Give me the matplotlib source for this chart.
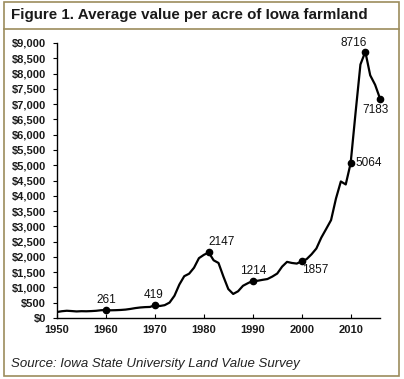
import matplotlib
matplotlib.use("Agg")
from matplotlib import pyplot as plt
from matplotlib.ticker import FuncFormatter

plt.rcParams['font.family'] = ['Liberation Sans', 'DejaVu Sans']

# average value per acre, Iowa farmland (ISU Land Value Survey)
years = list(range(1950, 2017))
values = [196, 222, 237, 227, 215, 223, 220, 226, 236, 254,
          261, 252, 256, 263, 275, 297, 324, 344, 356, 362,
          419, 392, 420, 505, 728, 1095, 1368, 1450, 1646, 1958,
          2066, 2147, 1889, 1801, 1357, 948, 787, 875, 1054, 1139,
          1214, 1219, 1249, 1275, 1356, 1455, 1682, 1837, 1801, 1781,
          1857, 1926, 2083, 2275, 2629, 2914, 3204, 3908, 4468, 4371,
          5064, 6708, 8296, 8716, 7943, 7633, 7183]

label_years = [1960, 1970, 1981, 1990, 2000, 2010, 2013, 2016]
# label offsets in pixels (dx, dy)
label_offsets = [(0, 4), (-1, 4), (0, 4), (0, 4), (0, -3), (5, 0), (2, 3), (-5, -5)]
label_align = ['center', 'center', 'left', 'center', 'left', 'left', 'right', 'center']

border = '#9c8c5c'

fig = plt.figure(figsize=(4.04, 3.79), dpi=100)

# frame around figure, with a rule under the title
fig.add_artist(plt.Rectangle((4 / 404, 3 / 379), 395 / 404, 374 / 379,
                             transform=fig.transFigure, fill=False,
                             edgecolor=border, linewidth=1.2))
fig.add_artist(plt.Line2D([4 / 404, 399 / 404], [1 - 29 / 379, 1 - 29 / 379],
                          transform=fig.transFigure, color=border, linewidth=1.2))

fig.text(11 / 404, 1 - 15 / 379, 'Figure 1. Average value per acre of Iowa farmland',
         fontsize=10.9, fontweight='bold', color='#1a1a1a', va='center', ha='left')
fig.text(11 / 404, 1 - 364 / 379, 'Source: Iowa State University Land Value Survey',
         fontsize=9.5, style='italic', color='#222222', va='center', ha='left')

ax = fig.add_axes([57 / 404, 61 / 379, 323 / 404, 275 / 379])
ax.plot(years, values, color='black', linewidth=1.6, solid_joinstyle='round')

lx = [y for y in label_years]
ly = [values[years.index(y)] for y in label_years]
ax.plot(lx, ly, 'o', color='black', markersize=4.5, clip_on=False)
for x, y, off, ha in zip(lx, ly, label_offsets, label_align):
    va = 'bottom' if off[1] > 0 else ('top' if off[1] < 0 else 'center')
    ax.annotate(str(y), (x, y), xytext=(off[0] * 0.72, off[1] * 0.72),
                textcoords='offset points', ha=ha, va=va,
                fontsize=8.5, color='#111111')

ax.set_xlim(1950, 2016)
ax.set_ylim(0, 9000)
ax.set_xticks(range(1950, 2011, 10))
ax.set_yticks(range(0, 9001, 500))
ax.yaxis.set_major_formatter(FuncFormatter(lambda v, p: '${:,.0f}'.format(v)))

for s in ['top', 'right']:
    ax.spines[s].set_visible(False)
for s in ['left', 'bottom']:
    ax.spines[s].set_linewidth(1.0)
ax.tick_params(axis='y', direction='out', length=3, width=0.8, pad=5, labelsize=8)
ax.tick_params(axis='x', direction='in', length=3, width=0.8, pad=5, labelsize=8)
for lab in ax.get_xticklabels() + ax.get_yticklabels():
    lab.set_fontweight('bold')
    lab.set_color('#1a1a1a')

fig.savefig('out.png', dpi=100)
